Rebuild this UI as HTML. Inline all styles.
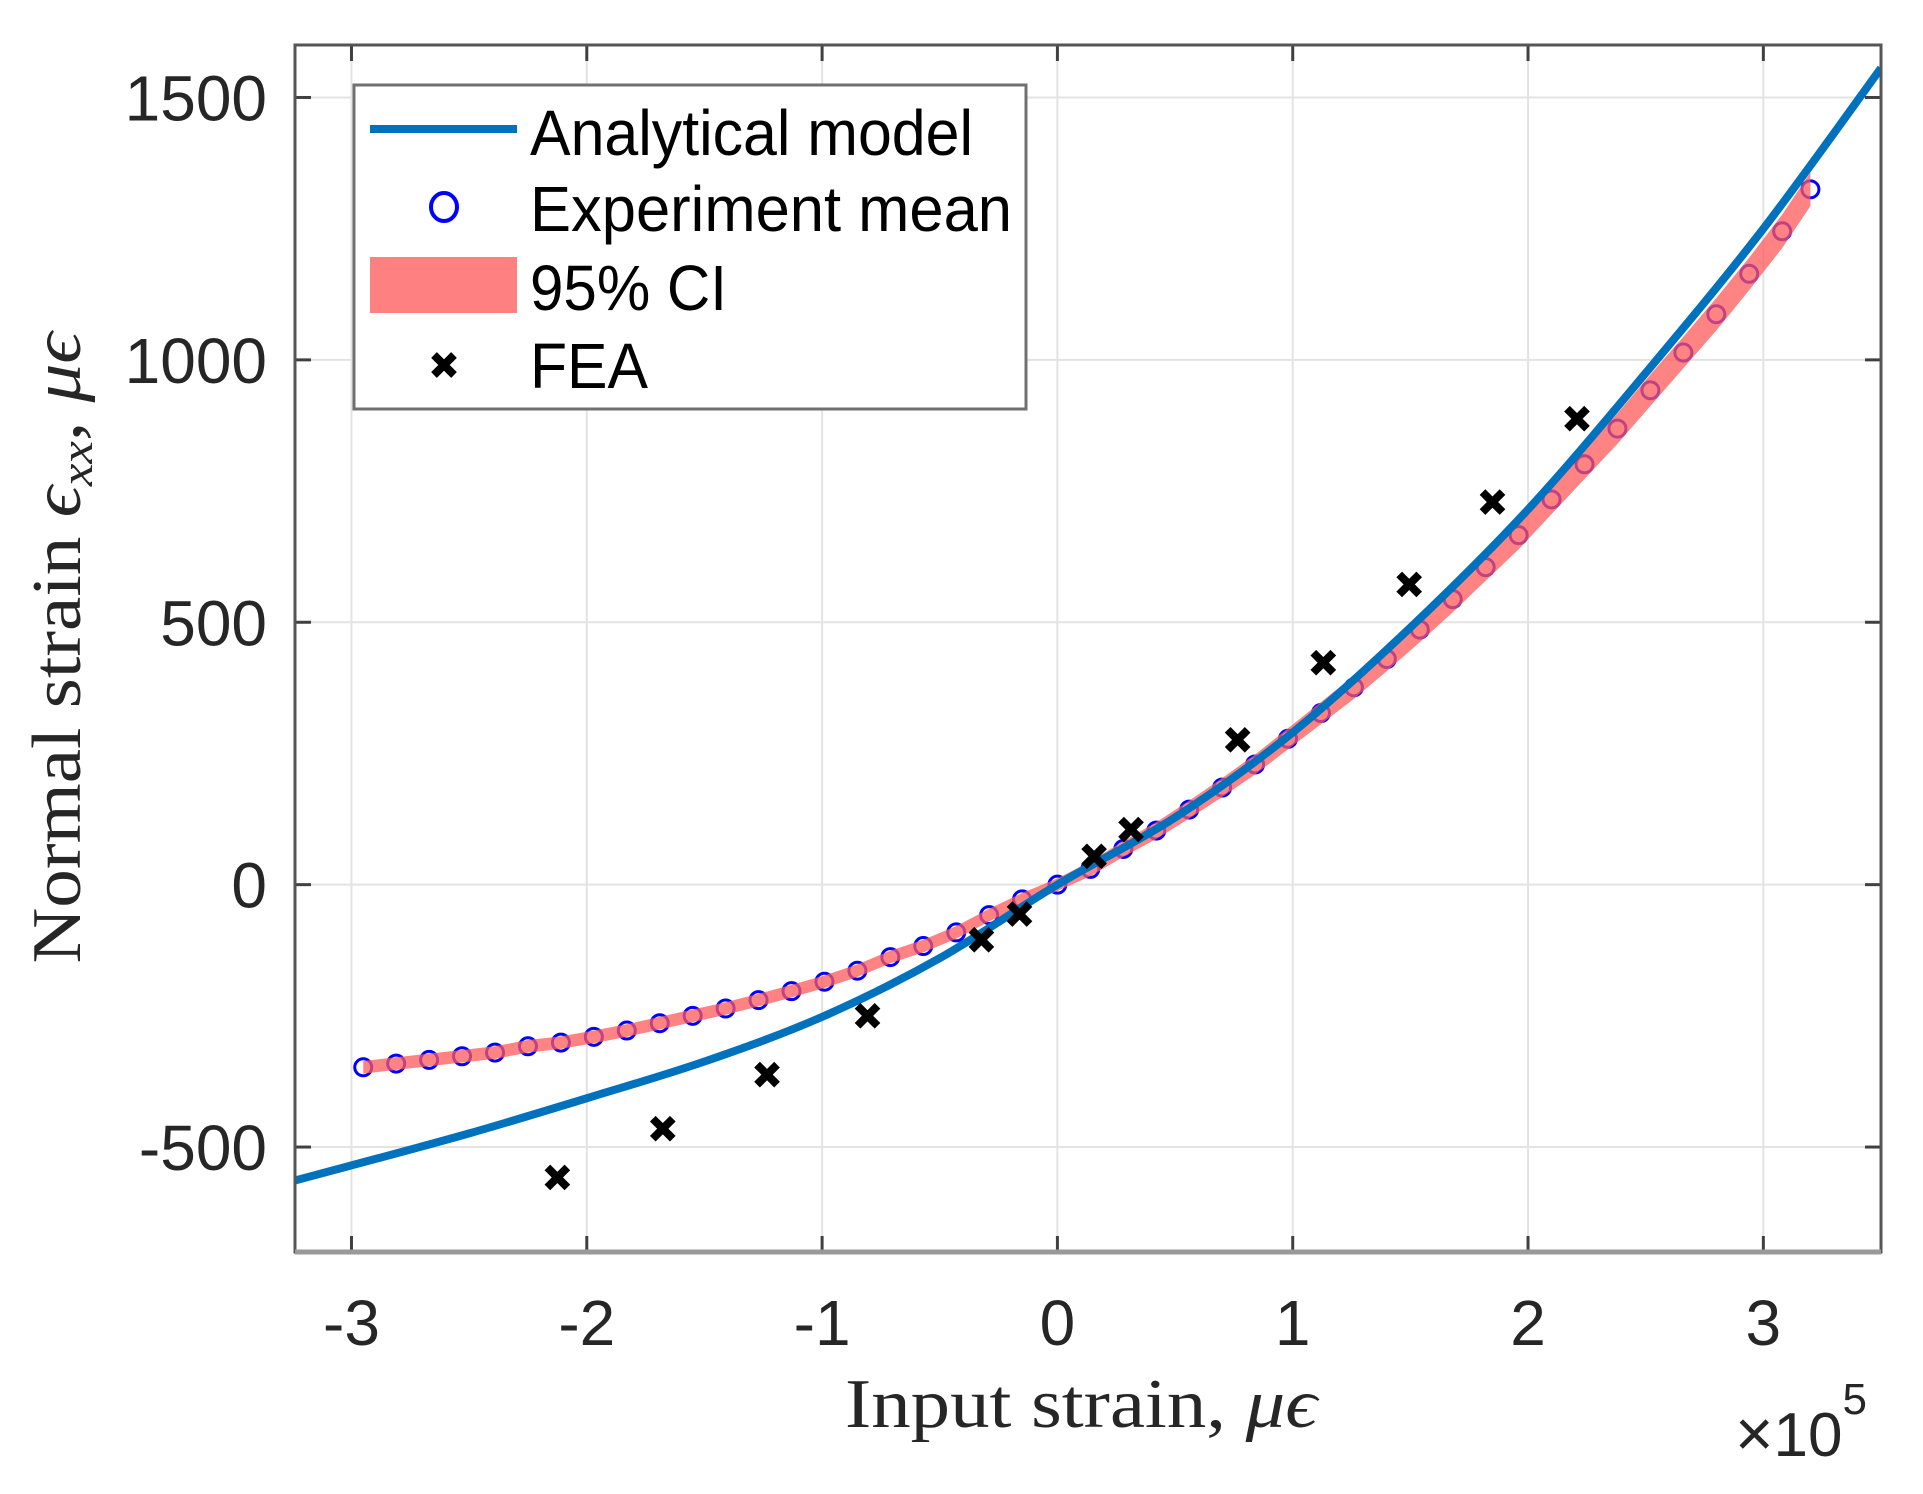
<!DOCTYPE html>
<html><head><meta charset="utf-8"><style>
html,body{margin:0;padding:0;background:#fff;}
svg{display:block;}
</style></head><body>
<svg id="chart" width="1923" height="1494" viewBox="0 0 1923 1494" xmlns="http://www.w3.org/2000/svg">
<rect x="0" y="0" width="1923" height="1494" fill="#fff"/>
<g id="grid"></g>
<g id="plot"></g>
<g id="axes"></g>
<text x="80" y="648" transform="rotate(-90 80 648)" text-anchor="middle" font-family="Liberation Serif, serif" font-size="70" fill="#262626" textLength="631" lengthAdjust="spacingAndGlyphs">Normal strain <tspan font-style="italic">ϵ</tspan><tspan font-style="italic" font-size="46" dy="12">xx</tspan><tspan dy="-12">, </tspan><tspan font-style="italic">μϵ</tspan></text>
<text x="1081" y="1427" text-anchor="middle" font-family="Liberation Serif, serif" font-size="70" fill="#262626" textLength="472" lengthAdjust="spacingAndGlyphs">Input strain, <tspan font-style="italic">μϵ</tspan></text>
<text x="1735" y="1456" font-family="Liberation Sans, sans-serif" font-size="62" fill="#262626"><tspan font-size="66">×</tspan>10<tspan font-size="44" dy="-42">5</tspan></text>
<g>
<rect x="354" y="85" width="672" height="324" fill="#fff" stroke="#707070" stroke-width="3"/>
<line x1="370" y1="129" x2="517" y2="129" stroke="#0072BD" stroke-width="8"/>
<text x="530" y="155" font-family="Liberation Sans, sans-serif" font-size="64" fill="#000" textLength="443" lengthAdjust="spacingAndGlyphs">Analytical model</text>
<ellipse cx="444" cy="207" rx="13" ry="14" fill="none" stroke="#0000FF" stroke-width="4"/>
<text x="530" y="231" font-family="Liberation Sans, sans-serif" font-size="64" fill="#000" textLength="482" lengthAdjust="spacingAndGlyphs">Experiment mean</text>
<rect x="370" y="257" width="147" height="56" fill="#FF8080"/>
<text x="530" y="310" font-family="Liberation Sans, sans-serif" font-size="64" fill="#000" textLength="197" lengthAdjust="spacingAndGlyphs">95% CI</text>
<path d="M434 355 L454 375 M454 355 L434 375" stroke="#000" stroke-width="8"/>
<text x="530" y="388" font-family="Liberation Sans, sans-serif" font-size="64" fill="#000" textLength="118" lengthAdjust="spacingAndGlyphs">FEA</text>
</g>
</svg>
<script>
// ---- data ----
const xTicks = [-3,-2,-1,0,1,2,3];
const xTickLabels = ["-3","-2","-1","0","1","2","3"];
const yTicks = [-500,0,500,1000,1500];
const yTickLabels = ["-500","0","500","1000","1500"];
const modelX = [-3.25,-3,-2.5,-2,-1.5,-1,-0.5,0,0.5,1,1.5,2,2.5,3,3.5];
const modelY = [-565,-535,-474,-407,-337,-252,-140,0,128,290,490,715,975,1250,1556];
const expX = [-2.95,-2.81,-2.67,-2.53,-2.39,-2.25,-2.11,-1.97,-1.83,-1.69,-1.55,-1.41,-1.27,-1.13,-0.99,-0.85,-0.71,-0.57,-0.43,-0.29,-0.15,0.0,0.14,0.28,0.42,0.56,0.70,0.84,0.98,1.12,1.26,1.40,1.54,1.68,1.82,1.96,2.10,2.24,2.38,2.52,2.66,2.80,2.94,3.08,3.20];
const expY = [-348,-341,-334,-327,-320,-308,-301,-290,-278,-264,-250,-236,-220,-203,-185,-164,-138,-117,-91,-58,-28,0,30,68,103,143,185,229,278,327,376,430,486,544,605,666,734,801,869,942,1014,1087,1164,1245,1325];
const ciHalf = [12,12,12,12,12,12,12,12,12,12,12,12,12,12,12,12,12,12,12,12,12,12,14,15,16,17,18,19,20,21,22,23,24,25,26,27,28,28,29,30,30,31,31,32,32];
const feaX = [-2.125,-1.677,-1.234,-0.807,-0.323,-0.161,0.156,0.313,0.766,1.13,1.495,1.849,2.208];
const feaY = [-558,-465,-362,-250,-105,-56,54,105,276,423,572,729,888];

// ---- axes ----
const L=295,R=1881,T=45,B=1252;
const xMin=-3.24,xMax=3.50,yMin=-700,yMax=1600;
const sx=v=>L+(v-xMin)/(xMax-xMin)*(R-L);
const sy=v=>B-(v-yMin)/(yMax-yMin)*(B-T);
const NS="http://www.w3.org/2000/svg";
function mk(tag,attrs,parent){const e=document.createElementNS(NS,tag);for(const k in attrs)e.setAttribute(k,attrs[k]);parent.appendChild(e);return e;}
const grid=document.getElementById('grid'),plot=document.getElementById('plot'),axes=document.getElementById('axes');

xTicks.forEach((t,i)=>{
  const g=mk('line',{x1:sx(t),x2:sx(t),y1:T,y2:B,stroke:'#e3e3e3','stroke-width':2},grid);
  
  
  const tk=mk('line',{x1:sx(t),x2:sx(t),y1:B-16,y2:B,stroke:'#404040','stroke-width':3},axes);
  
  
  const tk2=mk('line',{x1:sx(t),x2:sx(t),y1:T,y2:T+16,stroke:'#404040','stroke-width':3},axes);
  
  
  const lb=mk('text',{x:sx(t),y:1345,'text-anchor':'middle','font-family':'Liberation Sans, sans-serif','font-size':64,fill:'#262626'},axes);
  lb.textContent=xTickLabels[i];
  
  
});
yTicks.forEach((t,i)=>{
  const g=mk('line',{x1:L,x2:R,y1:sy(t),y2:sy(t),stroke:'#e3e3e3','stroke-width':2},grid);
  
  
  const tk=mk('line',{x1:L,x2:L+16,y1:sy(t),y2:sy(t),stroke:'#404040','stroke-width':3},axes);
  
  
  const tk2=mk('line',{x1:R-16,x2:R,y1:sy(t),y2:sy(t),stroke:'#404040','stroke-width':3},axes);
  
  
  const lb=mk('text',{x:267,y:sy(t)+23,'text-anchor':'end','font-family':'Liberation Sans, sans-serif','font-size':64,fill:'#262626'},axes);
  lb.textContent=yTickLabels[i];
  
  
});
const box=mk('rect',{x:L,y:T,width:R-L,height:B-T,fill:'none',stroke:'#555','stroke-width':3},axes);


const bx=mk('line',{x1:L,x2:R,y1:B,y2:B,stroke:'#999','stroke-width':5},axes);



// clip
const defs=mk('defs',{},plot);
const cp=mk('clipPath',{id:'clip'},defs);
mk('rect',{x:L,y:T,width:R-L,height:B-T},cp);
const pg=mk('g',{'clip-path':'url(#clip)'},plot);

// experiment markers
expX.forEach((x,i)=>{
  const c=mk('circle',{cx:sx(x),cy:sy(expY[i]),r:8.5,fill:'none',stroke:'#0000FF','stroke-width':3},pg);
  
  
});
// CI band
let up=expX.map((x,i)=>sx(x)+','+sy(expY[i]+ciHalf[i]));
let lo=expX.map((x,i)=>sx(x)+','+sy(expY[i]-ciHalf[i])).reverse();
const band=mk('polygon',{points:up.concat(lo).join(' '),fill:'#FF5a5a','fill-opacity':0.75},pg);


// model line
function smoothPath(xs,ys){
  const p=xs.map((x,i)=>[sx(x),sy(ys[i])]);
  let d='M'+p[0][0]+' '+p[0][1];
  for(let i=0;i<p.length-1;i++){
    const p0=p[Math.max(0,i-1)],p1=p[i],p2=p[i+1],p3=p[Math.min(p.length-1,i+2)];
    const c1=[p1[0]+(p2[0]-p0[0])/6,p1[1]+(p2[1]-p0[1])/6];
    const c2=[p2[0]-(p3[0]-p1[0])/6,p2[1]-(p3[1]-p1[1])/6];
    d+=` C${c1[0]} ${c1[1]} ${c2[0]} ${c2[1]} ${p2[0]} ${p2[1]}`;
  }
  return d;
}
const ml=mk('path',{d:smoothPath(modelX,modelY),fill:'none',stroke:'#0072BD','stroke-width':8},pg);


// FEA markers
feaX.forEach((x,i)=>{
  const cx=sx(x),cy=sy(feaY[i]);
  const m=mk('path',{d:`M${cx-10} ${cy-10} L${cx+10} ${cy+10} M${cx+10} ${cy-10} L${cx-10} ${cy+10}`,stroke:'#000','stroke-width':8},pg);
  
  
});
</script>
</body></html>
